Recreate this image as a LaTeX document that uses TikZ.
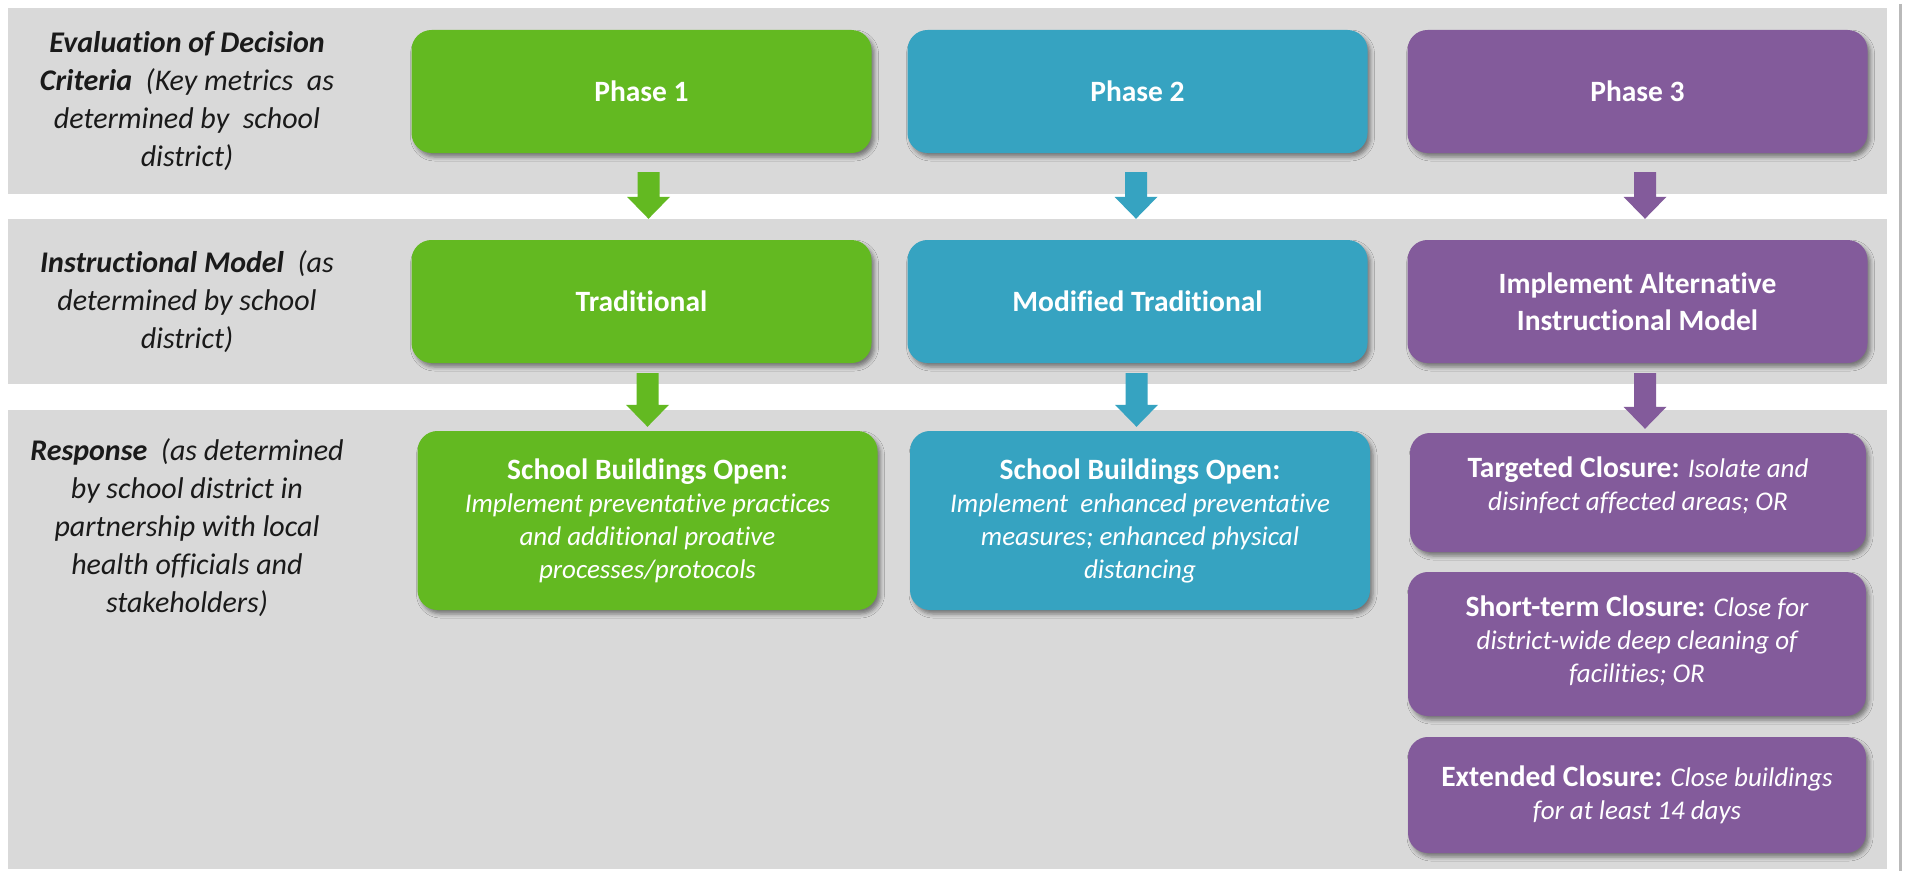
\documentclass[tikz,border=0pt]{standalone}
\usepackage{fontspec}
\setmainfont{Carlito}[Ligatures=NoCommon, RawFeature=-clig]
\usetikzlibrary{calc,shadows.blur}
\definecolor{pgreen}{HTML}{63B921}
\definecolor{pblue}{HTML}{36A3C1}
\definecolor{ppurple}{HTML}{835B9B}
\definecolor{band}{HTML}{D9D9D9}
\definecolor{lbl}{HTML}{1A1A1A}
\newcommand{\blockarr}[6]{%
  \fill[#3] let \p1=(#1.south), \p2=(#2.north) in
    (\x1+#4pt-11pt, \y1-#5pt) -- (\x1+#4pt+11pt, \y1-#5pt)
    -- (\x1+#4pt+11pt, \y2+#6pt+22pt) -- (\x1+#4pt+21.5pt, \y2+#6pt+22pt)
    -- (\x1+#4pt, \y2+#6pt) -- (\x1+#4pt-21.5pt, \y2+#6pt+22pt)
    -- (\x1+#4pt-11pt, \y2+#6pt+22pt) -- cycle;}
\begin{document}
\begin{tikzpicture}[x=1pt,y=-1pt,
  rbox/.style={rounded corners=20pt, draw=none, text=white, align=center,
    inner sep=0pt, minimum width=460pt,
    blur shadow={shadow xshift=3pt, shadow yshift=-4pt, shadow blur radius=4pt, shadow opacity=45}},
  titlebox/.style={rbox, minimum height=123pt, font=\fontsize{29.5}{37}\selectfont\bfseries},
  bodybox/.style={rbox, font=\fontsize{27}{33}\selectfont\itshape},
  rowlabel/.style={align=center, text=lbl, inner sep=0pt, font=\fontsize{30}{38}\selectfont\itshape}
]
\useasboundingbox (0,0) rectangle (1908,875);
\fill[white] (0,0) rectangle (1908,875);
% bands
\fill[band] (8,8) rectangle (1887,194);
\fill[band] (8,219) rectangle (1887,384);
\fill[band] (8,410) rectangle (1887,869);
% right frame line
\draw[line width=3pt, gray!55] (1900,4) -- (1900,871);

% row labels
\node[rowlabel] (l1) at (187,101) {{\bfseries Evaluation of Decision}\\{\bfseries Criteria}\ \ (Key metrics\ \ as\\determined by\ \ school\\district)};
\node[rowlabel] (l2) at (187,302) {{\bfseries Instructional Model}\ \ (as\\determined by school\\district)};
\node[rowlabel] (l3) at (187,528) {{\bfseries Response}\ \ (as determined\\by school district in\\partnership with local\\health officials and\\stakeholders)};

% row 1
\node[titlebox, fill=pgreen] (p1) at (641.5,91.5) {Phase 1};
\node[titlebox, fill=pblue] (p2) at (1137.5,91.5) {Phase 2};
\node[titlebox, fill=ppurple] (p3) at (1637.5,91.5) {Phase 3};
% row 2
\node[titlebox, fill=pgreen] (m1) at (641.5,301.5) {Traditional};
\node[titlebox, fill=pblue] (m2) at (1137.5,301.5) {Modified Traditional};
\node[titlebox, fill=ppurple] (m3) at (1637.5,301.5) {Implement Alternative\\Instructional Model};
% row 3
\node[bodybox, fill=pgreen, minimum height=179pt] (r1) at (647.5,520.5)
  {{\fontsize{29.5}{33}\selectfont\bfseries\upshape School Buildings Open:}\\Implement preventative practices\\and additional proative\\processes/protocols};
\node[bodybox, fill=pblue, minimum height=179pt] (r2) at (1140,520.5)
  {{\fontsize{29.5}{33}\selectfont\bfseries\upshape School Buildings Open:}\\Implement\ \ enhanced preventative\\measures; enhanced physical\\distancing};
\node[bodybox, fill=ppurple, minimum width=456pt, minimum height=119pt, text depth=17pt] (r3a) at (1638,492.5)
  {{\fontsize{29.5}{33}\selectfont\bfseries\upshape Targeted Closure:} Isolate and\\disinfect affected areas; OR};
\node[bodybox, fill=ppurple, minimum width=458pt, minimum height=144pt, text depth=10pt] (r3b) at (1637,644)
  {{\fontsize{29.5}{33}\selectfont\bfseries\upshape Short-term Closure:} Close for\\district-wide deep cleaning of\\facilities; OR};
\node[bodybox, fill=ppurple, minimum width=458pt, minimum height=116pt] (r3c) at (1637,795)
  {{\fontsize{29.5}{33}\selectfont\bfseries\upshape Extended Closure:} Close buildings\\for at least 14 days};

% block arrows
\blockarr{p1}{m1}{pgreen}{7}{19}{21}
\blockarr{p2}{m2}{pblue}{-1.5}{19}{21}
\blockarr{p3}{m3}{ppurple}{7.5}{19}{21}
\blockarr{m1}{r1}{pgreen}{6}{10}{4}
\blockarr{m2}{r2}{pblue}{-1}{10}{4}
\blockarr{m3}{r3a}{ppurple}{7.5}{10}{4}
\end{tikzpicture}
\end{document}
